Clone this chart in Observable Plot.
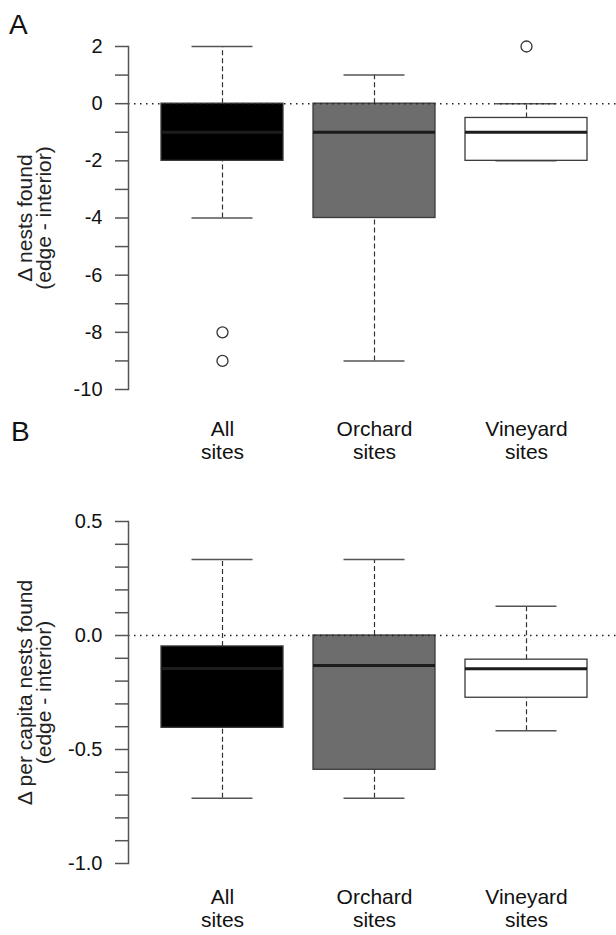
<!DOCTYPE html>
<html><head><meta charset="utf-8">
<script src="https://cdn.jsdelivr.net/npm/d3@7"></script>
<script src="https://cdn.jsdelivr.net/npm/@observablehq/plot@0.6"></script>
<style>
body{margin:0;background:#fff;}
#wrap{position:relative;width:616px;height:935px;overflow:hidden;font-family:"Liberation Sans",Arial,sans-serif;background:#fff;}
.panel-letter{position:absolute;font-size:28px;color:#111;line-height:1;}
#pa,#pb{position:absolute;left:0;}
</style></head><body>
<div id="wrap">
 <div id="pa" style="top:0"></div>
 <div id="pb" style="top:470px"></div>
 <div class="panel-letter" style="left:9px;top:11px">A</div>
 <div class="panel-letter" style="left:11px;top:418px">B</div>
</div>
<script>
// Categories and fills
const categories = ["All\nsites", "Orchard\nsites", "Vineyard\nsites"];
const boxFills = ["#000000", "#6d6d6d", "#ffffff"];

// Panel A: Δ nests found (edge - interior)
const nestsLower = [-4, -9, -2];
const nestsQ1 = [-2, -4, -2];
const nestsMedian = [-1, -1, -1];
const nestsQ3 = [0, 0, -0.5];
const nestsUpper = [2, 1, 0];
const nestsOutlierSites = ["All\nsites", "All\nsites", "Vineyard\nsites"];
const nestsOutlierValues = [-8, -9, 2];
const nestsTicks = d3.range(-10, 3, 1);

// Panel B: Δ per capita nests found (edge - interior)
const capLower = [-0.714, -0.714, -0.418];
const capQ1 = [-0.405, -0.589, -0.273];
const capMedian = [-0.145, -0.132, -0.146];
const capQ3 = [-0.048, 0, -0.106];
const capUpper = [0.333, 0.333, 0.128];
const capTicks = d3.range(-10, 6, 1).map(i => i / 10);

function rowsOf(lower, q1, median, q3, upper) {
  return categories.map((site, i) => ({site, lower: lower[i], q1: q1[i], median: median[i], q3: q3[i], upper: upper[i], fill: boxFills[i]}));
}

function panel({rows, outliers, domain, ticks, fmt, title, height, marginTop, marginBottom, catPadding}) {
  return Plot.plot({
    width: 616, height, marginTop, marginBottom, marginLeft: 128, marginRight: 0,
    x: {domain: categories, range: [161, 587], paddingInner: 0.2, paddingOuter: 0},
    y: {domain},
    color: {type: "identity"},
    style: {fontFamily: '"Liberation Sans", Arial, sans-serif', background: "white", color: "#111", fontSize: "20px"},
    marks: [
      Plot.ruleX(rows, {x: "site", y1: "q3", y2: "upper", stroke: "#333", strokeWidth: 1.2, strokeDasharray: "5,3"}),
      Plot.ruleX(rows, {x: "site", y1: "lower", y2: "q1", stroke: "#333", strokeWidth: 1.2, strokeDasharray: "5,3"}),
      Plot.tickY(rows, {x: "site", y: "upper", stroke: "#555", strokeWidth: 1.5, insetLeft: 30.5, insetRight: 30.5}),
      Plot.tickY(rows, {x: "site", y: "lower", stroke: "#555", strokeWidth: 1.5, insetLeft: 30.5, insetRight: 30.5}),
      Plot.barY(rows, {x: "site", y1: "q1", y2: "q3", fill: "fill", stroke: "#3a3a3a", strokeWidth: 1.3}),
      Plot.tickY(rows, {x: "site", y: "median", stroke: "#1c1c1c", strokeWidth: 3}),
      Plot.dot(outliers, {x: "site", y: "value", r: 5.5, stroke: "#333", fill: "white", strokeWidth: 1.3}),
      Plot.ruleY([0], {stroke: "#222", strokeWidth: 1.5, strokeDasharray: "1.5,4.5"}),
      Plot.frame({anchor: "left", stroke: "#555", strokeWidth: 1.5}),
      Plot.axisY({ticks, tickFormat: fmt, tickSize: 13, tickPadding: 13, stroke: "#555", strokeWidth: 1.5, fill: "#111", fontSize: 20, label: null}),
      Plot.axisX({tickSize: 0, tickPadding: catPadding, fontSize: 21, lineHeight: 1.1, fill: "#111", label: null}),
      Plot.text([title], {frameAnchor: "left", textAnchor: "middle", rotate: -90, dx: -93, lineAnchor: "middle", lineHeight: 0.88, fontSize: 21, fill: "#222"})
    ]
  });
}

const rowsA = rowsOf(nestsLower, nestsQ1, nestsMedian, nestsQ3, nestsUpper);
const outA = nestsOutlierSites.map((site, i) => ({site, value: nestsOutlierValues[i]}));
document.getElementById("pa").append(panel({
  rows: rowsA, outliers: outA, domain: [-10, 2], ticks: nestsTicks,
  fmt: d => (d % 2 === 0 ? String(d) : ""),
  title: "Δ nests found\n(edge - interior)",
  height: 470, marginTop: 46, marginBottom: 81, catPadding: 30
}));

const rowsB = rowsOf(capLower, capQ1, capMedian, capQ3, capUpper);
document.getElementById("pb").append(panel({
  rows: rowsB, outliers: [], domain: [-1, 0.5], ticks: capTicks,
  fmt: d => (Math.abs(Math.round(d * 10)) % 5 === 0 ? d.toFixed(1) : ""),
  title: "Δ per capita nests found\n(edge - interior)",
  height: 465, marginTop: 51, marginBottom: 72, catPadding: 24
}));
</script>
</body></html>
